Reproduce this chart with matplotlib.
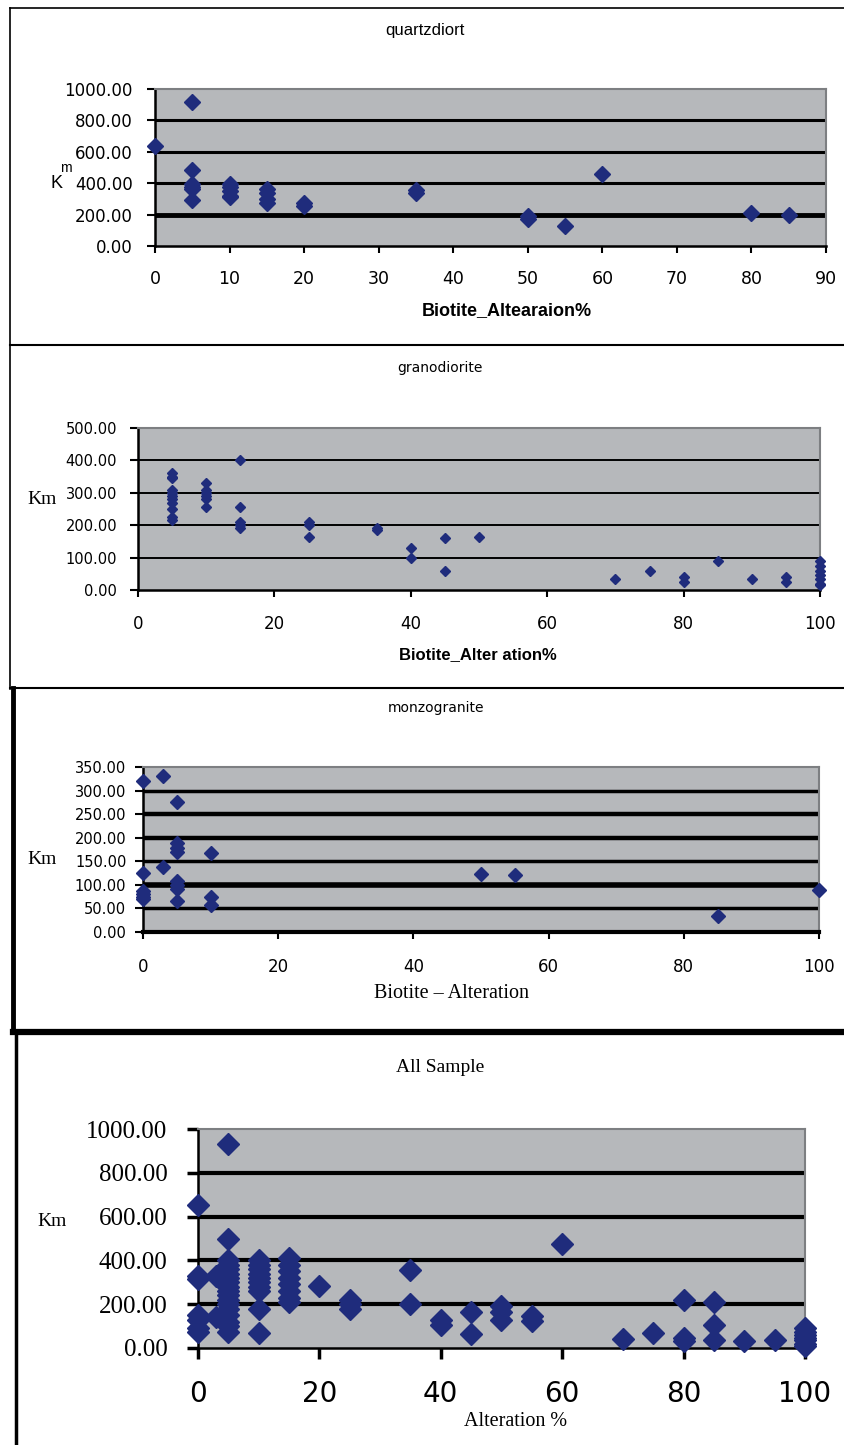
import matplotlib
matplotlib.use("Agg")
import matplotlib.pyplot as plt
from matplotlib.lines import Line2D
from matplotlib import font_manager

W, H = 845, 1445

# ---- data ----
qd_x = [0, 5, 5, 5, 5, 5, 5, 10, 10, 10, 10, 10, 15, 15, 15, 15, 20, 20, 35, 35, 50, 50, 55, 60, 80, 85]
qd_y = [635, 915, 485, 395, 375, 360, 290, 395, 375, 350, 320, 310, 365, 340, 300, 275, 275, 255,
        355, 340, 190, 170, 130, 460, 210, 195]

gd_x = ([5] * 11 + [10] * 6 + [15] * 5 + [25] * 3 + [35] * 2 + [40] * 2 + [45] * 2 + [50, 70, 75]
        + [80] * 2 + [85, 90] + [95] * 2 + [100] * 7)
gd_y = ([360, 350, 345, 310, 300, 290, 280, 270, 250, 225, 215]
        + [330, 310, 300, 290, 280, 255]
        + [400, 255, 210, 200, 190]
        + [210, 200, 165]
        + [192, 185]
        + [130, 100]
        + [160, 60]
        + [165, 34, 60]
        + [40, 25]
        + [88, 33]
        + [40, 25]
        + [90, 75, 60, 45, 35, 20, 15])

mz_x = [0] * 6 + [3] * 2 + [5] * 8 + [10] * 3 + [50, 55, 85, 100]
mz_y = ([320, 125, 88, 80, 75, 70] + [330, 137] + [275, 188, 178, 170, 108, 100, 92, 65]
        + [168, 75, 58] + [122, 120, 33, 90])

all_x = ([0] * 7 + [3] * 2 + [5] * 18 + [10] * 10 + [15] * 8 + [20] + [25] * 3 + [35] * 2
         + [40] * 2 + [45] * 2 + [50] * 3 + [55] * 2 + [60, 70, 75] + [80] * 3 + [85] * 3
         + [90, 95] + [100] * 7)
all_y = ([655, 330, 315, 150, 130, 90, 75]
         + [330, 140]
         + [930, 500, 400, 380, 360, 340, 320, 300, 280, 260, 240, 220, 200, 180, 150, 120, 100, 75]
         + [400, 380, 360, 340, 320, 300, 280, 260, 180, 70]
         + [410, 380, 350, 320, 290, 260, 230, 210]
         + [285]
         + [220, 200, 180]
         + [355, 200]
         + [130, 105]
         + [165, 65]
         + [190, 165, 130]
         + [145, 125]
         + [475, 40, 68]
         + [220, 45, 30]
         + [210, 105, 38]
         + [33, 35]
         + [90, 75, 60, 45, 35, 20, 10])

qd_yticks = [0, 200, 400, 600, 800, 1000]
gd_yticks = [0, 100, 200, 300, 400, 500]
mz_yticks = [0, 50, 100, 150, 200, 250, 300, 350]
all_yticks = [0, 200, 400, 600, 800, 1000]

NAVY = "#1f2c7c"
GRAY = "#b6b8bb"

names = {f.name for f in font_manager.fontManager.ttflist}
SANS = "Liberation Sans" if "Liberation Sans" in names else "DejaVu Sans"
SERIF = "Liberation Serif" if "Liberation Serif" in names else "DejaVu Serif"


def fx(px):
    return px / W


def fy(py):
    return 1 - py / H


def make_axes(fig, left, top, right, bottom):
    return fig.add_axes([fx(left), fy(bottom), (right - left) / W, (bottom - top) / H])


def style_axes(ax, xmax, xstep, yticks, grid_lw, tick_font, xfs, yfs, xpad, ypad, ms, x, y,
               ytick_family="DejaVu Sans", thick=None):
    ax.set_facecolor(GRAY)
    ax.set_xlim(0, xmax)
    ax.set_ylim(0, yticks[-1])
    ax.set_xticks(range(0, xmax + 1, xstep))
    ax.set_yticks(yticks)
    ax.set_yticklabels([f"{v:.2f}" for v in yticks], family=ytick_family, fontsize=yfs)
    ax.set_xticklabels([str(v) for v in range(0, xmax + 1, xstep)], family=tick_font, fontsize=xfs)
    ax.tick_params(axis="x", direction="out", length=5, width=1.5, pad=xpad)
    ax.tick_params(axis="y", direction="out", length=6, width=1.5, pad=ypad)
    for v in yticks[1:-1]:
        lw = grid_lw
        if thick and v in thick:
            lw = thick[v]
        ax.axhline(v, color="black", lw=lw, zorder=1)
    for s in ("left", "bottom"):
        ax.spines[s].set_color("black")
        ax.spines[s].set_linewidth(1.8)
    for s in ("top", "right"):
        ax.spines[s].set_color("#7d7f82")
        ax.spines[s].set_linewidth(1.5)
    ax.plot(x, y, ls="none", marker="D", ms=ms, color=NAVY, mec=NAVY, clip_on=False, zorder=3)


fig = plt.figure(figsize=(W / 100, H / 100), dpi=100)


def hline(py, x0, x1, lw):
    fig.add_artist(Line2D([fx(x0), fx(x1)], [fy(py), fy(py)], color="black", lw=lw))


def vline(px, y0, y1, lw):
    fig.add_artist(Line2D([fx(px), fx(px)], [fy(y0), fy(y1)], color="black", lw=lw))


# panel frames
hline(8, 10, 845, 1.2)
vline(10, 8, 345, 1.2)
hline(345, 10, 845, 1.5)
vline(10, 345, 689, 1.2)
hline(688, 10, 845, 1.5)
vline(13, 688, 1032, 3.5)
hline(1032, 13, 845, 4.5)
vline(16, 1032, 1445, 2.5)

# ---- quartzdiorite ----
ax1 = make_axes(fig, 155, 89, 826, 246)
style_axes(ax1, 90, 10, qd_yticks, 2.2, "DejaVu Sans", 12.5, 12, 12, 10, 8, qd_x, qd_y,
           thick={200: 3.5})
fig.text(fx(425), fy(31), "quartzdiort", ha="center", va="center", family=SANS, fontsize=12)
fig.text(fx(507), fy(311), "Biotite_Altearaion%", ha="center", va="center", family=SANS,
         fontsize=13, weight="bold")
fig.text(fx(57), fy(184), "K", ha="center", va="center", family=SANS, fontsize=13)
fig.text(fx(66), fy(168), "m", ha="center", va="center", family=SANS, fontsize=10)

# ---- granodiorite ----
ax2 = make_axes(fig, 138, 428, 820, 590)
style_axes(ax2, 100, 20, gd_yticks, 1.4, "DejaVu Sans", 12, 10.5, 13, 9, 5.5, gd_x, gd_y)
fig.text(fx(440), fy(368), "granodiorite", ha="center", va="center", family="DejaVu Sans",
         fontsize=10)
fig.text(fx(478), fy(655), "Biotite_Alter ation%", ha="center", va="center", family=SANS,
         fontsize=12, weight="bold")
fig.text(fx(42), fy(500), "Km", ha="center", va="center", family=SERIF, fontsize=14)

# ---- monzogranite ----
ax3 = make_axes(fig, 143, 767, 819, 932)
style_axes(ax3, 100, 20, mz_yticks, 2.5, "DejaVu Sans", 12, 10.5, 14, 6, 7, mz_x, mz_y,
           thick={100: 4, 200: 3.2, 250: 3.2})
ax3.spines["bottom"].set_linewidth(3)
fig.text(fx(436), fy(708), "monzogranite", ha="center", va="center", family="DejaVu Sans",
         fontsize=10)
fig.text(fx(452), fy(993), "Biotite \u2013 Alteration", ha="center", va="center", family=SERIF,
         fontsize=14.5)
fig.text(fx(42), fy(860), "Km", ha="center", va="center", family=SERIF, fontsize=14)

# ---- all samples ----
ax4 = make_axes(fig, 198, 1129, 805, 1348)
style_axes(ax4, 100, 20, all_yticks, 3.0, "DejaVu Sans", 20, 18, 15, 14, 11, all_x, all_y,
           ytick_family=SERIF)
ax4.tick_params(axis="both", width=2.5, length=8)
fig.text(fx(440), fy(1067), "All Sample", ha="center", va="center", family=SERIF, fontsize=14)
fig.text(fx(516), fy(1421), "Alteration %", ha="center", va="center", family=SERIF, fontsize=14.5)
fig.text(fx(52), fy(1222), "Km", ha="center", va="center", family=SERIF, fontsize=14)

fig.savefig("out.png", dpi=100, facecolor="white")
